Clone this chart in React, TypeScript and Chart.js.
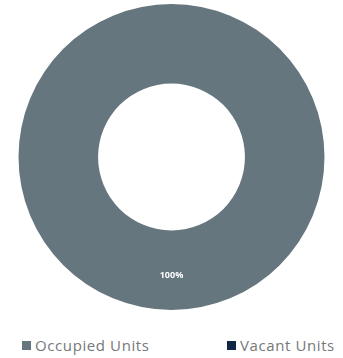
import React, { useEffect, useRef } from "react";
import { Chart, registerables } from "chart.js";

Chart.register(...registerables);

const categories = ["Occupied Units", "Vacant Units"];
const values = [100, 0];
const colors = ["#66767f", "#0f2744"];
const valueLabels = ["100%", "0%"];

const labelPlugin = {
  id: "sliceLabels",
  afterDatasetsDraw(chart: any) {
    const ctx = chart.ctx;
    const meta = chart.getDatasetMeta(0);
    meta.data.forEach((arc: any, i: number) => {
      if (!values[i]) return;
      const p = arc.tooltipPosition();
      ctx.save();
      ctx.fillStyle = "#ffffff";
      ctx.font = "bold 9px 'Open Sans', sans-serif";
      ctx.textAlign = "center";
      ctx.textBaseline = "middle";
      ctx.fillText(valueLabels[i], p.x, p.y + 5);
      ctx.restore();
    });
  },
};

const legendLeft = [22, 227];

export default function App() {
  const ref = useRef<HTMLCanvasElement>(null);
  useEffect(() => {
    if (!ref.current) return;
    const chart = new Chart(ref.current, {
      type: "doughnut",
      data: {
        labels: categories,
        datasets: [
          {
            data: values,
            backgroundColor: colors,
            borderWidth: 0,
          },
        ],
      },
      options: {
        animation: false,
        responsive: false,
        cutout: "48%",
        layout: { padding: { top: 4, bottom: 4 } },
        plugins: { legend: { display: false }, tooltip: { enabled: false } },
      },
      plugins: [labelPlugin],
    });
    return () => chart.destroy();
  }, []);

  return (
    <div style={{ position: "fixed", left: 0, top: 0, width: 343, height: 358, background: "#fff" }}>
      <canvas ref={ref} width={343} height={314} style={{ display: "block", width: 343, height: 314 }} />
      {categories.map((c, i) => (
        <div
          key={c}
          style={{
            position: "absolute",
            top: 336,
            left: legendLeft[i],
            display: "flex",
            alignItems: "center",
            fontFamily: "'Open Sans', sans-serif",
            fontSize: 15,
            letterSpacing: "0.6px",
            color: "#777",
            lineHeight: "18px",
            whiteSpace: "nowrap",
          }}
        >
          <span style={{ display: "inline-block", width: 9, height: 9, background: colors[i], marginRight: 4 }} />
          {c}
        </div>
      ))}
    </div>
  );
}
